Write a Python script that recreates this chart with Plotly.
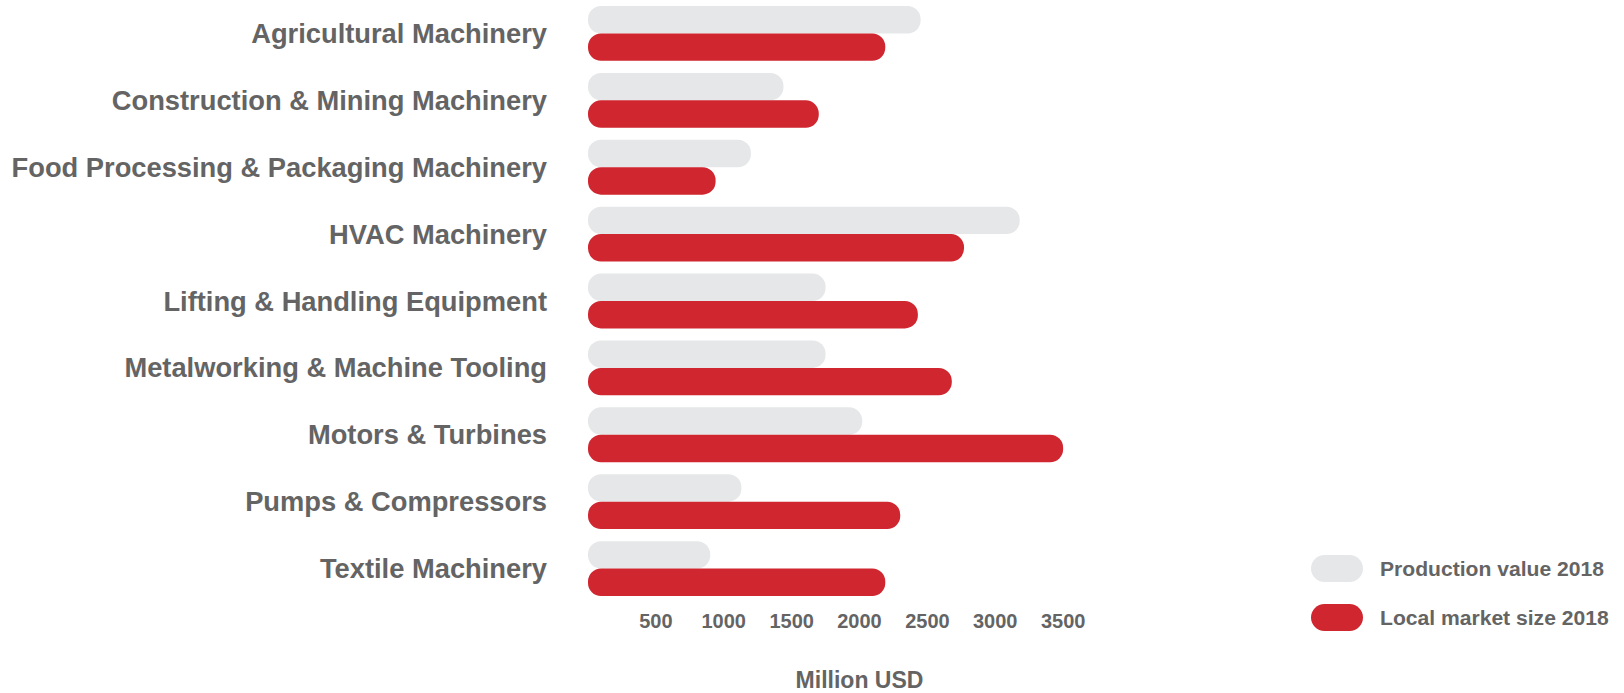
import plotly.graph_objects as go

categories = [
    "Agricultural Machinery",
    "Construction & Mining Machinery",
    "Food Processing & Packaging Machinery",
    "HVAC Machinery",
    "Lifting & Handling Equipment",
    "Metalworking & Machine Tooling",
    "Motors & Turbines",
    "Pumps & Compressors",
    "Textile Machinery",
]
production_2018 = [2450, 1440, 1200, 3180, 1750, 1750, 2020, 1130, 900]
local_market_2018 = [2190, 1700, 940, 2770, 2430, 2680, 3500, 2300, 2190]
series_names = ["Production value 2018", "Local market size 2018"]
tick_values = [500, 1000, 1500, 2000, 2500, 3000, 3500]

GREY = "#E6E7E8"
RED = "#D02630"
TEXT = "#646464"
FONT = "Liberation Sans, Arial, sans-serif"

W, H = 1624, 693
ML, MR, MT, MB = 588, 493, 0, 91
XMAX = 4000

fig = go.Figure()

for name, vals, color in [
    (series_names[0], production_2018, GREY),
    (series_names[1], local_market_2018, RED),
]:
    fig.add_trace(go.Bar(
        y=categories, x=vals, base=[0] * len(vals),
        orientation="h", marker=dict(color=color, cornerradius="50%", line=dict(width=0)),
        name=name, showlegend=False,
        hovertemplate="%{y}<br>" + name + ": %{x}<extra></extra>",
    ))

# custom pill legend
pw = (W - ML - MR)
ph = (H - MT - MB)
def px2paper_x(px):
    return (px - ML) / pw
def px2paper_y(py):
    return (H - MB - py) / ph

def pill_path(w, h):
    r = h / 2
    a = w / 2 - r
    k = 0.5523 * r
    return (f"M {-a},{-r} L {a},{-r} "
            f"C {a+k},{-r} {a+r},{-k} {a+r},0 C {a+r},{k} {a+k},{r} {a},{r} "
            f"L {-a},{r} C {-a-k},{r} {-a-r},{k} {-a-r},0 C {-a-r},{-k} {-a-k},{-r} {-a},{-r} Z")

legend_items = [(series_names[0], GREY, 568.5), (series_names[1], RED, 617.5)]
for name, color, cy in legend_items:
    fig.add_shape(
        type="path", xref="paper", yref="paper",
        xsizemode="pixel", ysizemode="pixel",
        xanchor=px2paper_x(1337), yanchor=px2paper_y(cy),
        path=pill_path(52, 27), fillcolor=color, line=dict(width=0),
    )
    fig.add_annotation(
        x=px2paper_x(1378), y=px2paper_y(cy), xref="paper", yref="paper",
        xanchor="left", yanchor="middle", text=name, showarrow=False,
        font=dict(family=FONT, size=21.1, color=TEXT, weight="bold"),
    )

fig.update_layout(
    width=W, height=H,
    margin=dict(l=ML, r=MR, t=MT, b=MB),
    paper_bgcolor="white", plot_bgcolor="white",
    barmode="group", bargap=0.18, bargroupgap=0,
    showlegend=False,
    font=dict(family=FONT, color=TEXT, weight="bold"),
    xaxis=dict(
        range=[0, XMAX], tickvals=tick_values, ticktext=[str(t) for t in tick_values],
        showgrid=False, zeroline=False, showline=False, ticks="",
        tickfont=dict(family=FONT, size=20, color=TEXT, weight="bold"),
        ticklabelstandoff=5,
        title=dict(text="Million USD", standoff=46,
                   font=dict(family=FONT, size=23, color=TEXT, weight="bold")),
        fixedrange=True,
    ),
    yaxis=dict(
        autorange="reversed", showgrid=False, zeroline=False, showline=False, ticks="",
        tickfont=dict(family=FONT, size=27.3, color=TEXT, weight="bold"),
        ticklabelstandoff=40, fixedrange=True,
    ),
)

fig.write_html("out.html", config={"displayModeBar": False},
               post_script="document.body.style.margin='0';")
